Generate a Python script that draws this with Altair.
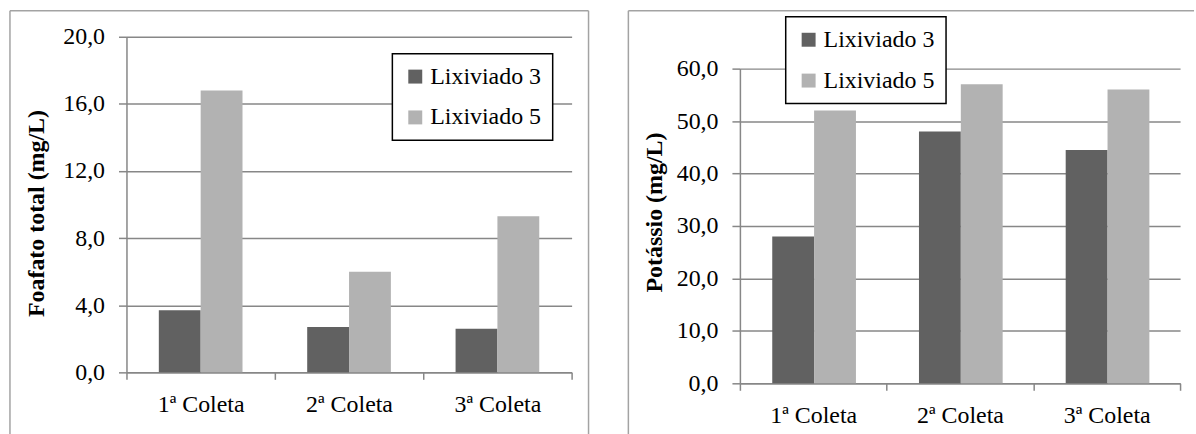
import altair as alt
import pandas as pd

coletas = ["1ª Coleta", "2ª Coleta", "3ª Coleta"]
series = ["Lixiviado 3", "Lixiviado 5"]
fosfato_l3 = [3.7, 2.7, 2.6]
fosfato_l5 = [16.8, 6.0, 9.3]
potassio_l3 = [28.0, 48.0, 44.5]
potassio_l5 = [52.0, 57.0, 56.0]
fosfato_ticks = [0, 4, 8, 12, 16, 20]
potassio_ticks = [0, 10, 20, 30, 40, 50, 60]

FONT = "Liberation Serif"
GRID = "#878787"
FRAME = "#a3a3a3"
DARK = "#616161"
LIGHT = "#b2b2b2"


def table(v3, v5):
    rows = []
    for c, a, b in zip(coletas, v3, v5):
        rows.append({"coleta": c, "serie": series[0], "valor": a})
        rows.append({"coleta": c, "serie": series[1], "valor": b})
    return pd.DataFrame(rows)


def frame_rule(x, x2, y, y2):
    return alt.Chart(alt.Data(values=[{}])).mark_rule(
        color=FRAME, strokeWidth=1.5
    ).encode(x=alt.value(x), x2=alt.value(x2), y=alt.value(y), y2=alt.value(y2))


def panel(v3, v5, ticks, title, w, h, yrange, lx, ly, tx, ty, frames):
    df = table(v3, v5)
    bars = alt.Chart(df).mark_bar().encode(
        x=alt.X(
            "coleta:N",
            sort=coletas,
            scale=alt.Scale(paddingInner=0, paddingOuter=0),
            axis=alt.Axis(
                title=None,
                tickBand="extent",
                labelAngle=0,
                labelFont=FONT,
                labelFontSize=24,
                labelColor="black",
                labelPadding=13,
                domainColor=GRID,
                domainWidth=1.5,
                tickColor=GRID,
                tickWidth=1.5,
                tickSize=7,
                grid=False,
            ),
        ),
        xOffset=alt.XOffset(
            "serie:N",
            sort=series,
            scale=alt.Scale(paddingInner=0, paddingOuter=0.773),
        ),
        y=alt.Y(
            "valor:Q",
            scale=alt.Scale(domain=[ticks[0], ticks[-1]], nice=False, range=yrange),
            axis=alt.Axis(
                values=ticks,
                labelExpr="replace(format(datum.value, '.1f'), '.', ',')",
                labelFont=FONT,
                labelFontSize=24,
                labelColor="black",
                labelPadding=14,
                tickSize=8,
                tickColor=GRID,
                tickWidth=1.5,
                domainColor=GRID,
                domainWidth=1.5,
                grid=True,
                gridColor=GRID,
                gridWidth=1.5,
                title=title,
                titleFont=FONT,
                titleFontSize=24,
                titleFontWeight="bold",
                titleColor="black",
                titleX=tx,
                titleY=ty,
            ),
        ),
        color=alt.Color(
            "serie:N",
            sort=series,
            scale=alt.Scale(domain=series, range=[DARK, LIGHT]),
            legend=alt.Legend(
                title=None,
                orient="none",
                legendX=lx,
                legendY=ly,
                direction="vertical",
                symbolType="square",
                symbolSize=196,
                symbolStrokeWidth=0,
                symbolOpacity=1,
                labelFont=FONT,
                labelFontSize=24,
                labelColor="black",
                labelOffset=3,
                rowPadding=17,
                padding=11,
                strokeColor="black",
                fillColor="white",
            ),
        ),
    )
    layers = [bars] + [frame_rule(*f) for f in frames]
    return alt.layer(*layers).properties(width=w, height=h)


left = panel(
    fosfato_l3, fosfato_l5, fosfato_ticks, "Foafato total (mg/L)",
    447, 337, [337, 0], 267, 17, -78, 177,
    [(-117, 464, -26, -26), (-117, -117, -26, 399), (464, 464, -26, 399)],
)
right = panel(
    potassio_l3, potassio_l5, potassio_ticks, "Potássio (mg/L)",
    442, 348, [348, 32], 46, -20, -74, 176,
    [(-112, 456, -26, -26), (-112, -112, -26, 399)],
)

chart = (
    alt.hconcat(left, right, spacing=36)
    .resolve_scale(color="independent")
    .resolve_legend(color="independent")
    .properties(padding={"left": 8, "top": 8, "right": 0, "bottom": 0}, background="white")
    .configure_view(stroke="transparent")
    .configure_legend(strokeWidth=1.5)
)

chart.save("out.html", embed_options={"renderer": "svg", "actions": False})
